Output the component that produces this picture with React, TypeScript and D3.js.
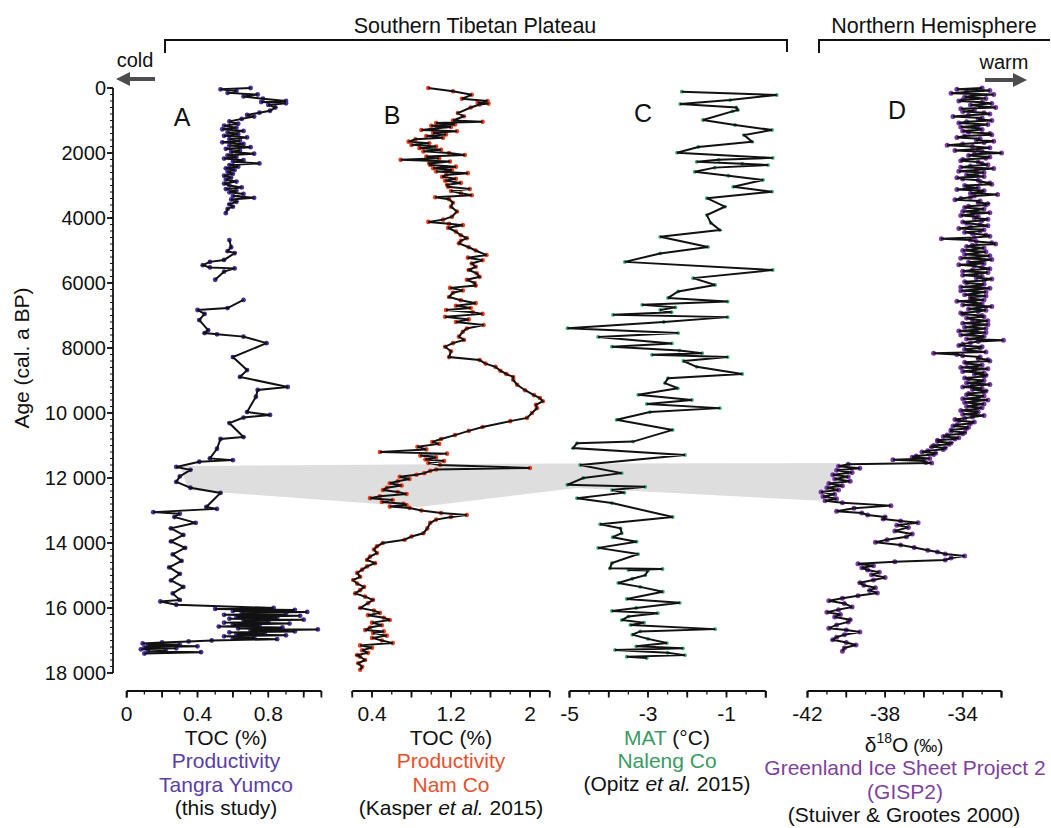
import React from 'react';
import * as d3 from 'd3';

// ---------- DATA (age in cal. a BP, value) ----------
// A: TOC (%) Tangra Yumco
const seriesA: [number, number][] = [
  [0,0.70],[40,0.53],[90,0.62],[150,0.57],[200,0.74],[260,0.66],[330,0.77],[400,0.90],[430,0.76],[470,0.90],[520,0.80],[600,0.84],[700,0.81],[760,0.75],[830,0.68],[880,0.72],[950,0.65],[1030,0.58],[1100,0.63],[1160,0.55],[1220,0.62],[1270,0.54],[1320,0.66],[1370,0.57],[1420,0.63],[1470,0.55],[1520,0.68],[1570,0.58],[1620,0.64],[1670,0.54],[1720,0.66],[1770,0.58],[1820,0.70],[1870,0.56],[1920,0.64],[1970,0.59],[2020,0.72],[2070,0.57],[2120,0.62],[2170,0.55],[2220,0.66],[2270,0.60],[2320,0.75],[2370,0.58],[2420,0.63],[2470,0.56],[2520,0.61],[2580,0.57],[2640,0.60],[2700,0.55],[2760,0.59],[2820,0.56],[2880,0.62],[2940,0.55],[3000,0.58],[3060,0.65],[3110,0.56],[3160,0.62],[3210,0.58],[3260,0.66],[3320,0.60],[3380,0.72],[3430,0.59],[3500,0.62],[3580,0.58],[3650,0.60],[3720,0.57],[3850,0.56],
  [4200,NaN],
  [4680,0.58],[4900,0.59],[5020,0.57],[5080,0.61],[5290,0.55],[5350,0.47],[5450,0.43],[5520,0.47],[5550,0.61],[5650,0.55],[5900,0.50],
  [6200,NaN],
  [6520,0.66],[6770,0.57],[6830,0.40],[6950,0.44],[7140,0.41],[7450,0.46],[7540,0.44],[7580,0.51],[7650,0.66],[7850,0.79],[8280,0.60],[8680,0.68],[8890,0.64],[9200,0.91],[9290,0.74],[9500,0.73],[9970,0.68],[10060,0.81],[10140,0.66],[10310,0.58],[10740,0.66],[10800,0.53],[11100,0.51],[11400,0.47],[11450,0.60],[11500,0.41],[11660,0.28],[11750,0.36],[11950,0.30],[12120,0.28],[12300,0.36],[12460,0.53],[12890,0.45],[12950,0.51],[13050,0.15],[13100,0.30],[13200,0.27],[13380,0.39],[13550,0.25],[13750,0.32],[13950,0.25],[14150,0.33],[14350,0.26],[14550,0.31],[14750,0.24],[14950,0.30],[15150,0.25],[15350,0.32],[15550,0.26],[15750,0.30],[15800,0.19],[15900,0.28],
  [16000,0.83],[16030,0.50],[16060,0.95],[16090,0.60],[16120,1.02],[16150,0.65],[16180,0.90],[16210,0.55],[16240,0.98],[16270,0.62],[16300,0.85],[16330,0.58],[16360,1.00],[16390,0.66],[16420,0.80],[16450,0.55],[16480,0.92],[16510,0.60],[16540,0.75],[16570,0.52],[16600,0.88],[16630,0.63],[16660,1.08],[16690,0.70],[16720,0.95],[16750,0.58],[16780,0.78],[16810,0.62],[16840,0.90],[16870,0.55],[16900,0.72],[16930,0.60],[16960,0.85],[17000,0.48],[17030,0.35],[17060,0.20],[17090,0.09],[17120,0.30],[17150,0.12],[17180,0.40],[17210,0.10],[17240,0.28],[17270,0.08],[17300,0.22],[17330,0.12],[17360,0.42],[17400,0.10]
];

// B: TOC (%) Nam Co
const seriesB: [number, number][] = [
  [0,0.97],[100,1.22],[210,1.41],[330,1.31],[400,1.57],[450,1.47],[480,1.58],[510,1.49],[600,1.40],[770,1.27],[870,1.33],[1000,1.22],[1040,1.52],[1080,1.05],[1120,1.24],[1160,1.00],[1200,1.20],[1240,1.06],[1290,0.90],[1330,1.26],[1380,1.02],[1430,1.15],[1480,0.95],[1530,1.12],[1580,0.84],[1650,0.77],[1700,0.98],[1750,0.80],[1800,1.05],[1850,0.88],[1900,1.10],[1950,0.92],[2000,1.18],[2060,1.34],[2110,0.95],[2160,1.08],[2210,0.69],[2260,1.19],[2320,0.98],[2370,0.99],[2420,1.25],[2470,1.02],[2520,1.21],[2570,1.05],[2620,1.37],[2680,1.15],[2730,1.11],[2790,1.25],[2850,1.14],[2920,1.30],[2980,1.16],[3040,1.17],[3110,1.39],[3170,1.20],[3240,1.30],[3300,1.41],[3360,1.04],[3420,1.18],[3530,1.22],[3650,1.20],[3800,1.26],[3960,1.21],[4050,1.12],[4120,0.97],[4180,1.18],[4220,1.32],[4300,1.17],[4420,1.25],[4530,1.30],[4620,1.36],[4700,1.30],[4780,1.28],[4900,1.38],[5000,1.45],[5140,1.56],[5220,1.37],[5300,1.52],[5400,1.41],[5500,1.45],[5600,1.38],[5700,1.46],[5810,1.49],[5900,1.36],[6000,1.44],[6080,1.45],[6150,1.19],[6230,1.32],[6300,1.22],[6430,1.18],[6530,1.30],[6620,1.45],[6700,1.25],[6770,1.40],[6830,1.15],[6900,1.42],[6950,1.52],[7040,1.14],[7120,1.38],[7200,1.25],[7290,1.53],[7400,1.36],[7500,1.32],[7650,1.28],[7750,1.33],[7850,1.22],[7960,1.14],[8100,1.20],[8280,1.18],[8370,1.49],[8480,1.55],[8580,1.65],[8700,1.70],[8800,1.76],[8890,1.83],[8980,1.83],[9130,1.87],[9300,1.95],[9450,2.04],[9540,2.10],[9640,2.13],[9750,2.06],[9850,2.07],[10000,2.02],[10150,1.97],[10250,1.80],[10430,1.52],[10550,1.38],[10680,1.24],[10800,1.10],[10890,1.01],[10950,1.08],[11040,0.86],[11120,0.95],[11200,0.48],[11250,1.16],[11310,0.89],[11370,1.05],[11430,0.94],[11480,1.13],[11540,0.97],[11600,1.09],[11690,2.00],[11740,1.05],[11780,0.99],[11850,0.93],[11900,0.85],[11960,0.68],[12030,0.78],[12100,0.66],[12160,0.58],[12230,0.70],[12300,0.55],[12370,0.51],[12430,0.66],[12490,0.75],[12560,0.48],[12620,0.38],[12680,0.61],[12740,0.50],[12790,0.72],[12830,0.75],[12880,0.58],[12920,0.78],[13000,0.90],[13080,1.10],[13140,1.36],[13200,1.20],[13280,1.05],[13380,0.99],[13550,0.96],[13700,0.92],[13800,0.80],[13900,0.73],[14000,0.51],[14100,0.45],[14200,0.42],[14310,0.45],[14420,0.38],[14520,0.35],[14620,0.43],[14720,0.35],[14820,0.30],[14920,0.25],[15040,0.28],[15140,0.21],[15250,0.25],[15350,0.32],[15450,0.28],[15550,0.23],[15650,0.33],[15750,0.41],[15850,0.36],[16000,0.28],[16080,0.42],[16150,0.48],[16220,0.36],[16300,0.52],[16370,0.58],[16450,0.40],[16530,0.50],[16600,0.38],[16680,0.33],[16720,0.52],[16770,0.41],[16850,0.55],[16920,0.40],[17000,0.50],[17080,0.61],[17150,0.28],[17220,0.40],[17300,0.30],[17380,0.36],[17450,0.25],[17500,0.28],[17600,0.33],[17700,0.26],[17810,0.30],[17900,0.28]
];

// C: MAT (°C) Naleng Co
const seriesC: [number, number][] = [
  [113,-2.14],[215,0.28],[370,-0.91],[492,-2.18],[600,-0.75],[677,-0.71],[720,-0.85],[985,-1.60],[1138,-0.78],[1292,0.16],[1450,-0.55],[1650,-0.35],[1815,-1.72],[1990,-2.26],[2150,0.18],[2210,-1.20],[2270,-1.76],[2330,-0.60],[2370,0.06],[2450,-1.30],[2580,-1.81],[2700,-0.95],[2830,-0.07],[3040,-0.83],[3190,0.16],[3390,-1.50],[3650,-1.04],[3910,-1.50],[4150,-1.40],[4370,-1.17],[4580,-2.69],[4890,-1.47],[5090,-2.69],[5350,-3.59],[5600,0.18],[5850,-1.85],[6060,-1.29],[6260,-2.23],[6460,-2.49],[6570,-0.97],[6670,-3.15],[6750,-2.30],[6830,-2.69],[6900,-2.40],[6980,-3.89],[7050,-0.97],[7200,-2.60],[7390,-5.05],[7540,-2.23],[7660,-4.27],[7860,-2.39],[7960,-3.92],[8080,-2.20],[8160,-1.62],[8210,-2.90],[8280,-0.97],[8400,-2.10],[8580,-1.76],[8800,-0.60],[8930,-2.49],[9080,-2.57],[9240,-2.24],[9440,-3.25],[9600,-1.88],[9720,-3.03],[9850,-1.17],[9970,-2.95],[10210,-3.80],[10520,-2.37],[10880,-3.38],[10930,-4.81],[11080,-4.91],[11290,-2.06],[11600,-4.73],[11850,-3.67],[12000,-4.65],[12210,-5.06],[12270,-3.07],[12370,-3.92],[12450,-3.60],[12620,-4.81],[12770,-3.92],[13200,-2.37],[13420,-4.22],[13550,-3.70],[13700,-3.67],[13820,-3.90],[13960,-3.29],[14150,-4.27],[14340,-3.25],[14620,-3.92],[14780,-3.97],[14800,-2.63],[14830,-3.50],[14850,-3.00],[14990,-3.07],[15100,-3.40],[15230,-3.76],[15350,-3.20],[15500,-2.62],[15720,-3.54],[15840,-2.19],[16000,-3.30],[16090,-3.92],[16160,-2.75],[16260,-3.50],[16370,-3.67],[16450,-3.10],[16520,-3.45],[16650,-1.29],[16720,-3.20],[16820,-3.40],[16950,-3.00],[17080,-2.52],[17180,-3.30],[17240,-2.11],[17290,-3.84],[17380,-2.50],[17450,-2.06],[17500,-3.54],[17540,-3.03]
];

// D: δ18O (‰) GISP2
const seriesD: [number, number][] = [
  [0,-33.0],[40,-34.3],[80,-32.6],[120,-33.8],[160,-34.6],[200,-32.4],[240,-33.5],[280,-33.9],[320,-32.8],[360,-34.0],
  [400,-34.2],[440,-33.0],[480,-32.5],[520,-33.6],[560,-33.1],[600,-32.3],[640,-34.1],[680,-33.4],[720,-34.0],[760,-32.9],
  [800,-32.6],[840,-33.7],[880,-34.5],[920,-33.0],[960,-33.2],[1000,-32.5],[1040,-33.8],[1080,-34.2],[1120,-32.7],[1160,-33.3],
  [1200,-34.1],[1240,-33.2],[1280,-33.0],[1320,-34.0],[1360,-33.7],[1400,-32.6],[1440,-32.5],[1480,-33.9],[1520,-34.3],[1560,-33.1],
  [1600,-33.3],[1640,-32.4],[1680,-32.9],[1720,-34.0],[1760,-34.8],[1800,-33.5],[1840,-32.6],[1880,-33.2],[1920,-34.4],[1960,-33.0],
  [2000,-32.0],[2040,-33.4],[2080,-33.7],[2120,-32.6],[2160,-32.8],[2200,-34.0],[2240,-34.1],[2280,-33.2],[2320,-33.0],[2360,-32.7],
  [2400,-33.6],[2440,-34.1],[2480,-32.4],[2520,-33.3],[2560,-34.2],[2600,-32.9],[2640,-33.3],[2680,-33.8],[2720,-32.9],[2760,-34.3],
  [2800,-34.0],[2840,-33.2],[2880,-33.1],[2920,-32.6],[2960,-32.5],[3000,-33.9],[3040,-33.8],[3080,-33.2],[3120,-34.3],[3160,-32.9],
  [3200,-33.0],[3240,-33.6],[3280,-32.2],[3320,-33.4],[3360,-33.6],[3400,-34.1],[3440,-34.4],[3480,-33.1],[3520,-33.2],[3560,-32.7],
  [3600,-32.8],[3640,-33.7],[3680,-33.9],[3720,-32.9],[3760,-33.3],[3800,-34.0],[3840,-32.6],[3880,-33.5],[3920,-34.1],[3960,-33.2],
  [4000,-33.4],[4040,-32.7],[4080,-33.0],[4120,-34.0],[4160,-33.8],[4200,-33.1],[4240,-32.7],[4280,-33.6],[4320,-34.2],[4360,-32.9],
  [4400,-33.1],[4440,-33.9],[4480,-33.5],[4520,-32.8],[4560,-32.6],[4600,-33.4],[4640,-35.1],[4680,-33.6],[4720,-33.3],[4760,-32.5],
  [4800,-32.3],[4840,-33.5],[4880,-33.8],[4920,-32.9],[4960,-33.4],[5000,-34.0],[5040,-32.8],[5080,-33.3],[5120,-33.9],[5160,-32.6],
  [5200,-33.2],[5240,-34.1],[5280,-32.5],[5320,-33.0],[5360,-33.7],[5400,-32.9],[5440,-34.2],[5480,-33.4],[5520,-33.0],[5560,-32.6],
  [5600,-33.5],[5640,-34.0],[5680,-32.7],[5720,-33.3],[5760,-34.0],[5800,-33.0],[5840,-33.3],[5880,-32.5],[5920,-32.9],[5960,-33.9],
  [6000,-33.8],[6040,-32.9],[6080,-33.1],[6120,-34.1],[6160,-32.6],[6200,-33.3],[6240,-34.1],[6280,-32.8],[6320,-33.4],[6360,-33.9],
  [6400,-32.8],[6440,-33.6],[6480,-33.6],[6520,-32.9],[6560,-34.3],[6600,-33.4],[6640,-33.0],[6680,-34.0],[6720,-32.5],[6760,-33.2],
  [6800,-33.7],[6840,-32.8],[6880,-33.2],[6920,-34.1],[6960,-34.0],[7000,-33.0],[7040,-32.9],[7080,-33.8],[7120,-33.5],[7160,-32.7],
  [7200,-33.2],[7240,-34.0],[7280,-32.7],[7320,-33.4],[7360,-33.9],[7400,-32.8],[7440,-33.3],[7480,-34.2],[7520,-32.8],[7560,-33.5],
  [7600,-34.1],[7640,-32.9],[7680,-33.0],[7720,-33.8],[7760,-31.9],[7800,-33.2],[7840,-33.6],[7880,-34.0],[7920,-34.2],[7960,-33.0],
  [8000,-33.1],[8040,-33.9],[8080,-33.7],[8120,-32.8],[8160,-35.5],[8200,-34.3],[8240,-34.0],[8280,-33.1],[8320,-33.2],[8360,-32.7],
  [8400,-32.6],[8440,-33.9],[8480,-33.8],[8520,-33.0],[8560,-33.3],[8600,-34.1],[8640,-32.7],[8680,-33.4],[8720,-34.0],[8760,-32.9],
  [8800,-33.4],[8840,-32.8],[8880,-32.9],[8920,-33.9],[8960,-33.7],[9000,-32.9],[9040,-33.1],[9080,-33.8],[9120,-32.6],[9160,-33.5],
  [9200,-34.0],[9240,-33.0],[9280,-33.5],[9320,-32.8],[9360,-32.9],[9400,-33.7],[9440,-33.8],[9480,-32.9],[9520,-33.2],[9560,-34.0],
  [9600,-32.7],[9640,-33.4],[9680,-33.9],[9720,-32.9],[9760,-33.4],[9800,-33.8],[9840,-33.0],[9880,-33.3],[9920,-34.1],[9960,-33.2],
  [10000,-33.3],[10040,-34.0],[10080,-32.9],[10120,-33.5],[10160,-33.9],[10200,-34.4],[10240,-34.2],[10280,-33.4],[10320,-33.6],[10360,-34.3],
  [10400,-34.5],[10440,-33.7],[10480,-33.8],[10520,-34.6],[10560,-34.6],[10600,-33.9],[10640,-34.0],[10680,-34.8],[10720,-35.0],[10760,-34.2],
  [10800,-34.4],[10840,-35.3],[10880,-35.3],[10920,-34.6],[10960,-34.7],[11000,-35.5],[11040,-35.6],[11080,-34.9],[11120,-35.0],[11160,-35.8],
  [11200,-36.1],[11240,-35.4],[11280,-35.5],[11320,-36.4],[11360,-36.6],[11400,-35.7],[11440,-37.6],[11480,-36.0],[11520,-35.9],[11540,-35.6],
  [11580,-39.9],[11640,-40.4],[11700,-39.3],[11760,-40.5],[11830,-39.7],[11900,-40.7],[11960,-39.9],[12030,-40.6],[12100,-39.8],[12170,-40.9],[12240,-40.2],[12300,-41.0],[12370,-40.4],[12430,-41.3],[12500,-40.6],[12570,-41.2],[12640,-40.5],[12700,-41.1],[12760,-40.2],[12850,-37.7],[12930,-39.6],[13020,-40.5],[13080,-39.2],[13140,-38.9],[13200,-38.0],[13260,-38.1],[13320,-37.2],[13380,-36.3],[13450,-37.4],[13520,-36.8],[13630,-37.5],[13720,-36.6],[13810,-36.9],[13900,-37.9],[13980,-38.5],[14060,-37.2],[14140,-36.5],[14220,-35.8],[14280,-35.3],[14340,-34.9],[14400,-33.9],[14460,-34.6],[14520,-34.9],[14580,-37.5],[14640,-39.4],[14700,-38.6],[14760,-39.2],[14830,-38.9],[14900,-38.3],[14980,-38.7],[15060,-38.0],[15140,-38.6],[15220,-39.3],[15300,-39.1],[15380,-38.5],[15460,-38.8],[15540,-38.4],[15620,-39.4],[15700,-40.2],[15780,-40.9],[15860,-40.1],[15970,-39.7],[16050,-40.4],[16130,-41.0],[16200,-40.3],[16280,-40.6],[16360,-39.8],[16430,-39.9],[16520,-40.5],[16620,-40.9],[16680,-40.0],[16740,-39.3],[16820,-40.1],[16900,-40.5],[16980,-40.7],[17060,-40.0],[17140,-39.5],[17230,-40.1],[17330,-40.2]
];

// Gray band (Younger Dryas correlation): [panel, value, age]
const bandTop: [string, number, number][] = [['A', 0.30, 11630], ['C', -4.9, 11550], ['D', -40.3, 11540]];
const bandBottom: [string, number, number][] = [['D', -41.3, 12700], ['C', -4.8, 12310], ['B', 0.88, 12890], ['A', 0.35, 12370]];

// Axis tick labels
const ageTickValues = [0, 2000, 4000, 6000, 8000, 10000, 12000, 14000, 16000, 18000];
const ageTickLabels = ['0', '2000', '4000', '6000', '8000', '10 000', '12 000', '14 000', '16 000', '18 000'];
const labelsA = [[0, '0'], [0.4, '0.4'], [0.8, '0.8']] as [number, string][];
const labelsB = [[0.4, '0.4'], [1.2, '1.2'], [2, '2']] as [number, string][];
const labelsC = [[-5, '-5'], [-3, '-3'], [-1, '-1']] as [number, string][];
const labelsD = [[-42, '-42'], [-38, '-38'], [-34, '-34']] as [number, string][];

const FONT = "'Liberation Sans', Arial, Helvetica, sans-serif";
const COL_A = '#5a3da6';
const COL_B = '#e8502c';
const COL_C = '#3a9a62';
const COL_D = '#7f3f9f';
const FS = 21;

export default function App() {
  const y = d3.scaleLinear().domain([0, 18000]).range([88, 673]);
  const axisY = 691;
  const panels = [
    { key: 'A', data: seriesA, x: d3.scaleLinear().domain([0, 1.1]).range([126.7, 321.4]), major: d3.range(0, 1.101, 0.2), minor: d3.range(0, 1.101, 0.1), labels: labelsA, dot: '#4a2fa0', r: 2.4 },
    { key: 'B', data: seriesB, x: d3.scaleLinear().domain([0.2, 2.2]).range([352.25, 549.75]), major: d3.range(0.4, 2.201, 0.4), minor: d3.range(0.2, 2.201, 0.2), labels: labelsB, dot: '#e8401c', r: 2.3 },
    { key: 'C', data: seriesC, x: d3.scaleLinear().domain([-5, 0]).range([569.5, 765.75]), major: d3.range(-5, 0.01, 1), minor: d3.range(-5, 0.01, 0.5), labels: labelsC, dot: '#2fae6a', r: 1.9 },
    { key: 'D', data: seriesD, x: d3.scaleLinear().domain([-42, -32]).range([807.5, 1001.5]), major: d3.range(-42, -31.99, 2), minor: d3.range(-42, -31.99, 1), labels: labelsD, dot: '#7a3aa8', r: 2.5 },
  ];
  const pmap: Record<string, d3.ScaleLinear<number, number>> = {};
  panels.forEach(p => (pmap[p.key] = p.x));

  const bandPts = [...bandTop, ...bandBottom].map(([k, v, a]) => [pmap[k](v), y(a)] as [number, number]);
  const bandPath = 'M' + bandPts.map(p => p.join(',')).join('L') + 'Z';

  const lineGen = (xs: d3.ScaleLinear<number, number>) =>
    d3.line<[number, number]>().defined(d => !isNaN(d[1])).x(d => xs(d[1])).y(d => y(d[0]));

  return (
    <svg width={1051} height={828} style={{ position: 'absolute', left: 0, top: 0, background: '#fff' }}>
      <rect x={0} y={0} width={1051} height={828} fill="#fff" />
      {/* header */}
      <g fontFamily={FONT} fill="#111">
        <text x={475} y={33} fontSize={21.5} textAnchor="middle">Southern Tibetan Plateau</text>
        <text x={934} y={33} fontSize={21.5} textAnchor="middle">Northern Hemisphere</text>
        <text x={135} y={67} fontSize={20} textAnchor="middle">cold</text>
        <text x={1004} y={69} fontSize={20} textAnchor="middle">warm</text>
      </g>
      <path d="M165,53V40H787V52" fill="none" stroke="#111" strokeWidth={2} />
      <path d="M819,53V40H1050" fill="none" stroke="#111" strokeWidth={2} />
      <line x1={155} x2={127} y1={79} y2={79} stroke="#4d4d4d" strokeWidth={4} />
      <polygon points="116,79 130,72 130,86" fill="#4d4d4d" />
      <line x1={985} x2={1015} y1={80} y2={80} stroke="#4d4d4d" strokeWidth={4} />
      <polygon points="1027,80 1013,73 1013,87" fill="#4d4d4d" />

      {/* band */}
      <path d={bandPath} fill="#dedede" />

      {/* series */}
      {panels.map(p => (
        <g key={p.key}>
          {p.data.filter(d => !isNaN(d[1])).map((d, i) => (
            <circle key={i} cx={p.x(d[1])} cy={y(d[0])} r={p.r} fill={p.dot} />
          ))}
          <path d={lineGen(p.x)(p.data) || ''} fill="none" stroke="#111" strokeWidth={2} strokeLinejoin="miter" strokeMiterlimit={3} />
        </g>
      ))}

      {/* panel letters */}
      <g fontFamily={FONT} fill="#111" fontSize={25} textAnchor="middle">
        <text x={182} y={126}>A</text>
        <text x={392} y={124}>B</text>
        <text x={643} y={122}>C</text>
        <text x={897} y={119}>D</text>
      </g>

      {/* y axis */}
      <g stroke="#111">
        <line x1={113} x2={113} y1={y(0)} y2={y(18000)} strokeWidth={1.8} />
        {d3.range(0, 18001, 200).map(a => (
          <line key={a} x1={110} x2={113} y1={y(a)} y2={y(a)} strokeWidth={1} />
        ))}
        {ageTickValues.map(a => (
          <line key={'M' + a} x1={107} x2={113} y1={y(a)} y2={y(a)} strokeWidth={1.8} />
        ))}
      </g>
      {ageTickValues.map((a, i) =>
        <text key={'L' + a} x={106} y={y(a)} dy="0.36em" fontSize={20} textAnchor="end" fontFamily={FONT} fill="#111">{ageTickLabels[i]}</text>
      )}
      <text transform={`translate(29,${358}) rotate(-90)`} fontSize={21} textAnchor="middle" fontFamily={FONT} fill="#111">Age (cal. a BP)</text>

      {/* bottom axes */}
      {panels.map(p => (
        <g key={'ax' + p.key}>
          <line x1={p.x.range()[0]} x2={p.x.range()[1]} y1={axisY} y2={axisY} stroke="#111" strokeWidth={2} />
          {p.minor.map((v, i) => (
            <line key={'m' + i} x1={p.x(v)} x2={p.x(v)} y1={axisY} y2={axisY + 3.5} stroke="#111" strokeWidth={1.3} />
          ))}
          {p.major.map((v, i) => (
            <line key={'M' + i} x1={p.x(v)} x2={p.x(v)} y1={axisY} y2={axisY + 6.5} stroke="#111" strokeWidth={1.8} />
          ))}
          <line x1={p.x.range()[0]} x2={p.x.range()[0]} y1={axisY} y2={axisY + 6.5} stroke="#111" strokeWidth={1.8} />
          <line x1={p.x.range()[1]} x2={p.x.range()[1]} y1={axisY} y2={axisY + 6.5} stroke="#111" strokeWidth={1.8} />
          {p.labels.map(([v, l]) => (
            <text key={l} x={p.x(v)} y={721} fontSize={FS} textAnchor="middle" fontFamily={FONT} fill="#111">{l}</text>
          ))}
        </g>
      ))}

      {/* titles */}
      <g fontFamily={FONT} fontSize={FS} textAnchor="middle">
        <text x={226} y={745} fill="#111">TOC (%)</text>
        <text x={226} y={768} fill={COL_A}>Productivity</text>
        <text x={226} y={792} fill={COL_A}>Tangra Yumco</text>
        <text x={226} y={815} fill="#111">(this study)</text>

        <text x={451} y={745} fill="#111">TOC (%)</text>
        <text x={451} y={768} fill={COL_B}>Productivity</text>
        <text x={451} y={792} fill={COL_B}>Nam Co</text>
        <text x={451} y={815} fill="#111">(Kasper <tspan fontStyle="italic">et al.</tspan> 2015)</text>

        <text x={667} y={745} fill="#111"><tspan fill={COL_C}>MAT</tspan> (°C)</text>
        <text x={667} y={768} fill={COL_C}>Naleng Co</text>
        <text x={667} y={791} fill="#111">(Opitz <tspan fontStyle="italic">et al.</tspan> 2015)</text>

        <text x={904} y={752} fill="#111">δ<tspan fontSize={14} dy={-9}>18</tspan><tspan dy={9}>O</tspan><tspan fontSize={18}> (‰)</tspan></text>
        <text x={905} y={775} fill={COL_D}>Greenland Ice Sheet Project 2</text>
        <text x={905} y={799} fill={COL_D}>(GISP2)</text>
        <text x={904} y={822} fill="#111">(Stuiver &amp; Grootes 2000)</text>
      </g>
    </svg>
  );
}
